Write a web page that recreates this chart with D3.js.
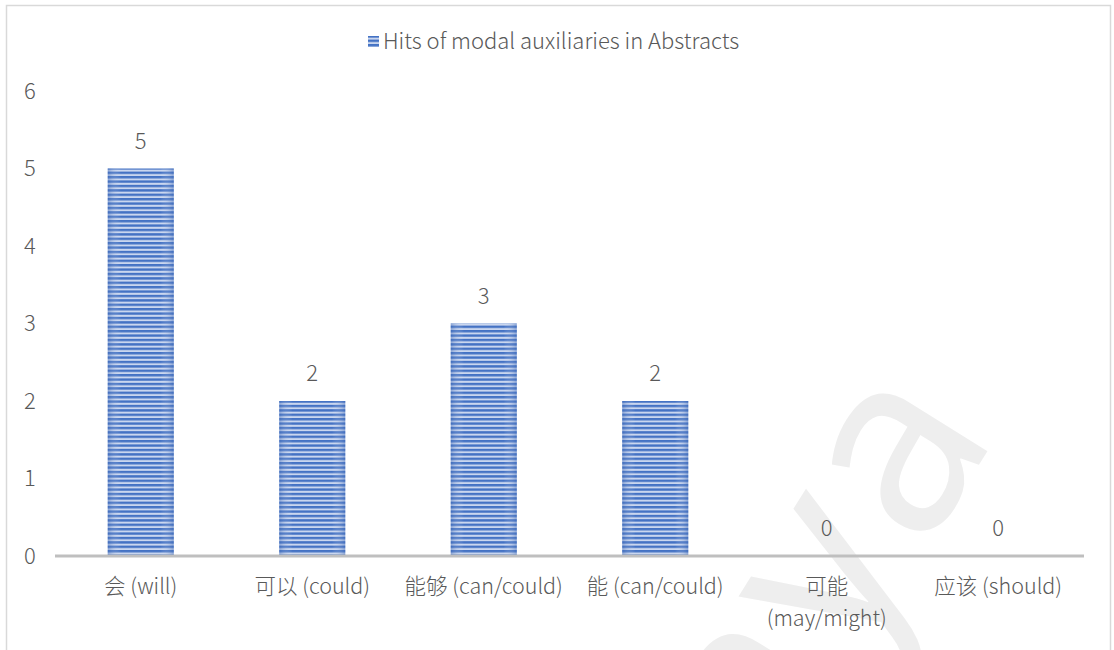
<!DOCTYPE html>
<html>
<head>
<meta charset="utf-8">
<script src="https://cdn.jsdelivr.net/npm/d3@7"></script>
<style>
  body { margin: 0; background: #fff; }
  text { font-family: "Noto Sans CJK SC", "Noto Sans", sans-serif; fill: #595959; font-weight: 300; }
</style>
</head>
<body>
<div id="chart"></div>
<script>
/* DATA */
const categories = ["会 (will)", "可以 (could)", "能够 (can/could)", "能 (can/could)", "可能 (may/might)", "应该 (should)"];
const hits = [5, 2, 3, 2, 0, 0];
const yTicks = [0, 1, 2, 3, 4, 5, 6];
const seriesName = "Hits of modal auxiliaries in Abstracts";

/* CONSTANTS */
const width = 1114, height = 650;
const margin = { left: 55, right: 30, top: 91, bottom: 94 };

const svg = d3.select("#chart").append("svg")
  .attr("width", width)
  .attr("height", height);

// striped fill for the bars
const defs = svg.append("defs");
const pat = defs.append("pattern")
  .attr("id", "stripes")
  .attr("patternUnits", "userSpaceOnUse")
  .attr("width", 10).attr("height", 4.4);
pat.append("rect").attr("width", 10).attr("height", 4.4).attr("fill", "#c9d6ef");
pat.append("rect").attr("width", 10).attr("height", 2.4).attr("fill", "#4472c4");

const grad = defs.append("linearGradient").attr("id", "edge")
  .attr("x1", 0).attr("x2", 1).attr("y1", 0).attr("y2", 0);
grad.append("stop").attr("offset", 0).attr("stop-color", "#3b66b4").attr("stop-opacity", 0.45);
grad.append("stop").attr("offset", 0.2).attr("stop-color", "#ffffff").attr("stop-opacity", 0);
grad.append("stop").attr("offset", 0.8).attr("stop-color", "#ffffff").attr("stop-opacity", 0);
grad.append("stop").attr("offset", 1).attr("stop-color", "#3b66b4").attr("stop-opacity", 0.45);

// frame
svg.append("rect")
  .attr("x", 6.5).attr("y", 5.5)
  .attr("width", 1104).attr("height", 660)
  .attr("fill", "none").attr("stroke", "#d9d9d9").attr("stroke-width", 1.5);

// watermark
svg.append("text")
  .attr("transform", "translate(735,855) rotate(-58)")
  .attr("font-size", 250)
  .attr("letter-spacing", 8)
  .style("fill", "#eeeeee")
  .style("font-family", "Noto Sans")
  .style("font-weight", 400)
  .text("laya");

/* SCALES */
const x = d3.scaleBand()
  .domain(categories)
  .range([margin.left, width - margin.right])
  .paddingInner(0.615)
  .paddingOuter(0.3075);

const y = d3.scaleLinear()
  .domain([0, 6])
  .range([height - margin.bottom, margin.top]);

/* AXES */
svg.selectAll(".ytick")
  .data(yTicks)
  .join("text")
  .attr("class", "ytick")
  .attr("x", 30)
  .attr("y", d => y(d))
  .attr("dy", "0.35em")
  .attr("text-anchor", "middle")
  .attr("font-size", 22)
  .text(d => d);

/* BARS */
const bars = svg.append("g");
bars.selectAll("rect.bar")
  .data(hits)
  .join("rect")
  .attr("class", "bar")
  .attr("x", (d, i) => x(categories[i]))
  .attr("y", d => y(d))
  .attr("width", x.bandwidth())
  .attr("height", d => y(0) - y(d))
  .attr("fill", "url(#stripes)");
bars.selectAll("rect.shade")
  .data(hits)
  .join("rect")
  .attr("class", "shade")
  .attr("x", (d, i) => x(categories[i]))
  .attr("y", d => y(d))
  .attr("width", x.bandwidth())
  .attr("height", d => y(0) - y(d))
  .attr("fill", "url(#edge)");

// baseline
svg.append("line")
  .attr("x1", margin.left).attr("x2", width - margin.right)
  .attr("y1", y(0)).attr("y2", y(0))
  .attr("stroke", "#bfbfbf").attr("stroke-width", 3);

// value labels
svg.selectAll(".val")
  .data(hits)
  .join("text")
  .attr("class", "val")
  .attr("x", (d, i) => x(categories[i]) + x.bandwidth() / 2)
  .attr("y", d => y(d) - 20)
  .attr("text-anchor", "middle")
  .attr("font-size", 22)
  .text(d => d);

// category labels (wrap 可能 onto two lines)
const catLines = ["会 (will)", "可以 (could)", "能够 (can/could)", "能 (can/could)", "可能\n(may/might)", "应该 (should)"];
svg.selectAll(".cat")
  .data(categories)
  .join("text")
  .attr("class", "cat")
  .attr("x", d => x(d) + x.bandwidth() / 2)
  .attr("y", y(0) + 38)
  .attr("text-anchor", "middle")
  .attr("font-size", 21.5)
  .each(function (d, i) {
    const t = d3.select(this);
    catLines[i].split("\n").forEach((line, k) => {
      t.append("tspan")
        .attr("x", x(d) + x.bandwidth() / 2)
        .attr("dy", k === 0 ? 0 : 32)
        .text(line);
    });
  });

/* LEGEND */
const legend = svg.append("g");
legend.append("rect")
  .attr("x", 368).attr("y", 36)
  .attr("width", 11).attr("height", 11)
  .attr("fill", "url(#stripes)");
legend.append("text")
  .attr("x", 383).attr("y", 49)
  .attr("font-size", 22)
  .text(seriesName);
</script>
</body>
</html>
